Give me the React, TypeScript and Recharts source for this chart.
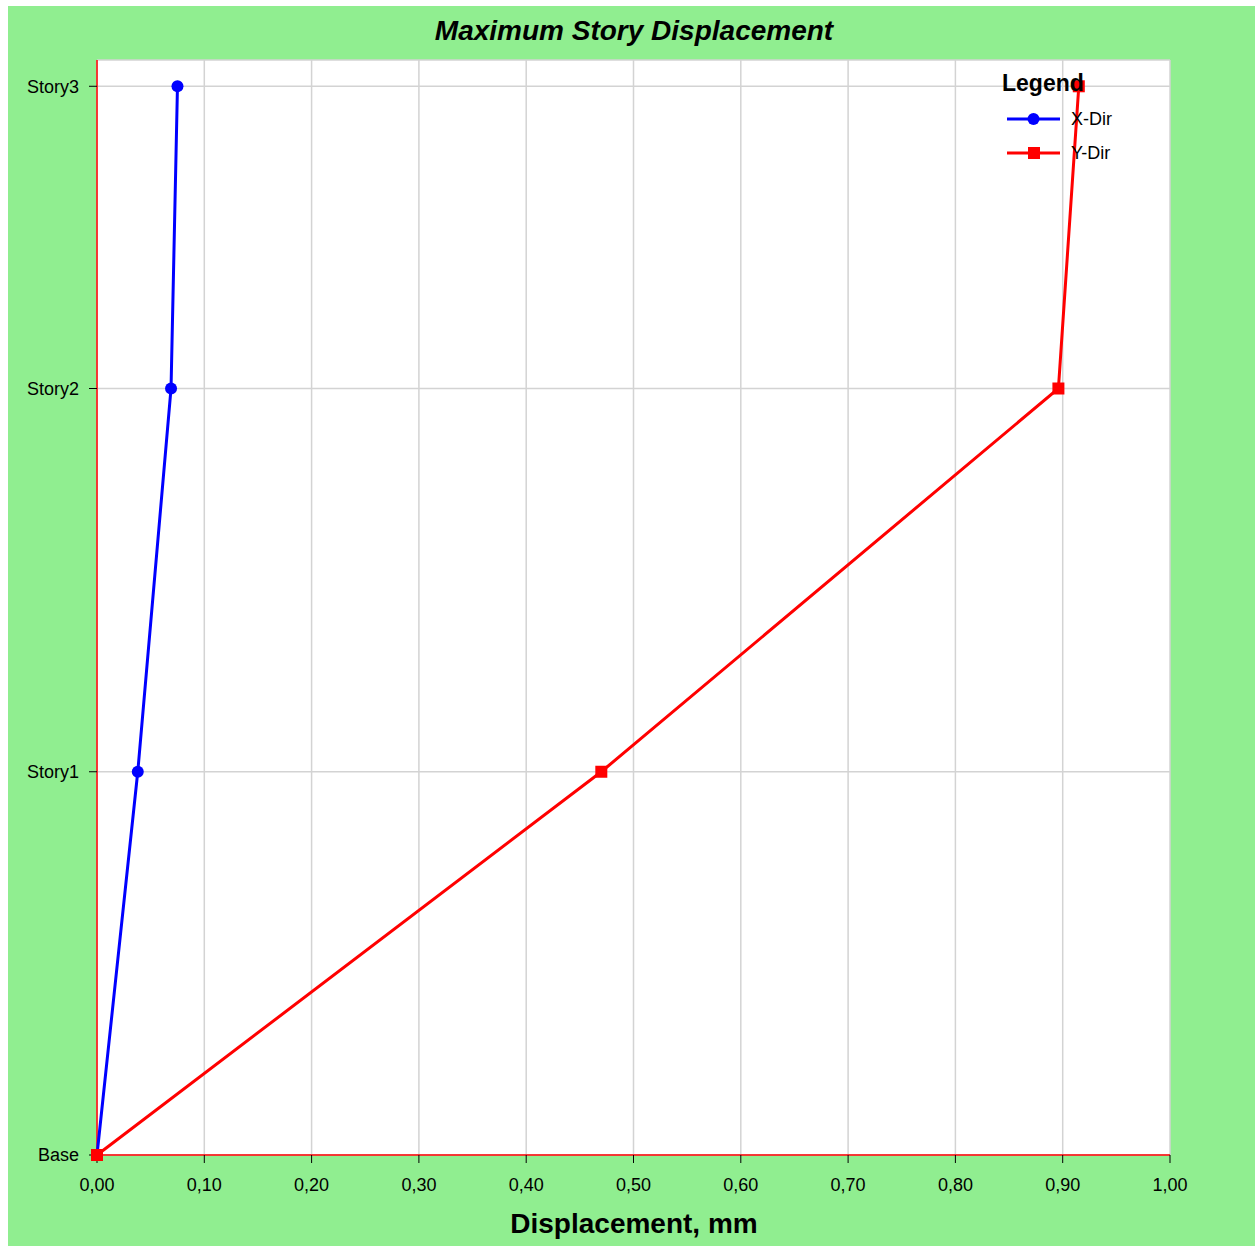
import { CartesianGrid, Scatter, ScatterChart, XAxis, YAxis } from 'recharts'

const storyNames = ['Base', 'Story1', 'Story2', 'Story3']
const storyElevations = [0, 3.5, 7, 9.76]
const xDirDisp = [0, 0.038, 0.069, 0.075]
const yDirDisp = [0, 0.47, 0.896, 0.915]
const xTicks = [0, 0.1, 0.2, 0.3, 0.4, 0.5, 0.6, 0.7, 0.8, 0.9, 1.0]

const xDirData = storyElevations.map((elev, i) => ({ disp: xDirDisp[i], elev }))
const yDirData = storyElevations.map((elev, i) => ({ disp: yDirDisp[i], elev }))

const font = 'Arial, "Liberation Sans", sans-serif'

const fmtX = (v: number) => v.toFixed(2).replace('.', ',')
const fmtY = (v: number) => {
  const i = storyElevations.indexOf(v)
  return i >= 0 ? storyNames[i] : ''
}

const CircleDot = (props: any) => <circle cx={props.cx} cy={props.cy} r={6} fill="#0000ff" />
const SquareDot = (props: any) => <rect x={props.cx - 6} y={props.cy - 6} width={12} height={12} fill="#ff0000" />

function LegendBox() {
  const row = (label: string, color: string, square: boolean) => (
    <div style={{ display: 'flex', alignItems: 'center', height: 34 }}>
      <svg width={56} height={14} style={{ marginLeft: 5 }}>
        <line x1={0} y1={7} x2={53} y2={7} stroke={color} strokeWidth={3} />
        {square ? <rect x={21} y={1} width={12} height={12} fill={color} /> : <circle cx={26.5} cy={7} r={6} fill={color} />}
      </svg>
      <span style={{ marginLeft: 8, fontSize: 18, color: '#000' }}>{label}</span>
    </div>
  )
  return (
    <div style={{ position: 'absolute', top: 62, left: 994, fontFamily: font, zIndex: 2 }}>
      <div style={{ fontSize: 23, fontWeight: 'bold', height: 34, lineHeight: '30px' }}>Legend</div>
      {row('X-Dir', '#0000ff', false)}
      {row('Y-Dir', '#ff0000', true)}
    </div>
  )
}

export default function App() {
  return (
    <div style={{ position: 'absolute', top: 6, left: 8, width: 1247, height: 1240, background: '#90ee90', fontFamily: font }}>
      <div style={{ position: 'absolute', top: 8, left: 0, width: 1252, textAlign: 'center', fontSize: 28, fontWeight: 'bold', fontStyle: 'italic', lineHeight: '34px' }}>
        Maximum Story Displacement
      </div>
      <div style={{ position: 'absolute', top: 1201, left: 0, width: 1252, textAlign: 'center', fontSize: 28, fontWeight: 'bold', lineHeight: '34px' }}>
        Displacement, mm
      </div>
      <ScatterChart width={1247} height={1240} margin={{ top: 54, right: 85, left: 0, bottom: 0 }}>
        <CartesianGrid fill="#ffffff" stroke="#d3d3d3" strokeWidth={1.5} />
        <XAxis
          type="number"
          dataKey="disp"
          domain={[0, 1]}
          ticks={xTicks}
          tickFormatter={fmtX}
          height={91}
          axisLine={{ stroke: '#ff0000', strokeWidth: 1.5 }}
          tickLine={{ stroke: '#000' }}
          tickSize={8}
          tickMargin={15}
          tick={{ fill: '#000', fontSize: 18, fontFamily: font }}
          interval={0}
        />
        <YAxis
          type="number"
          dataKey="elev"
          domain={[0, 10]}
          ticks={storyElevations}
          tickFormatter={fmtY}
          width={89}
          axisLine={{ stroke: '#ff0000', strokeWidth: 1.5 }}
          tickLine={{ stroke: '#000' }}
          tickSize={8}
          tickMargin={10}
          tick={{ fill: '#000', fontSize: 18, fontFamily: font }}
          interval={0}
        />
        <Scatter
          name="X-Dir"
          data={xDirData}
          line={{ stroke: '#0000ff', strokeWidth: 3 }}
          shape={CircleDot}
          isAnimationActive={false}
        />
        <Scatter
          name="Y-Dir"
          data={yDirData}
          line={{ stroke: '#ff0000', strokeWidth: 3 }}
          shape={SquareDot}
          isAnimationActive={false}
        />
      </ScatterChart>
      <LegendBox />
    </div>
  )
}
